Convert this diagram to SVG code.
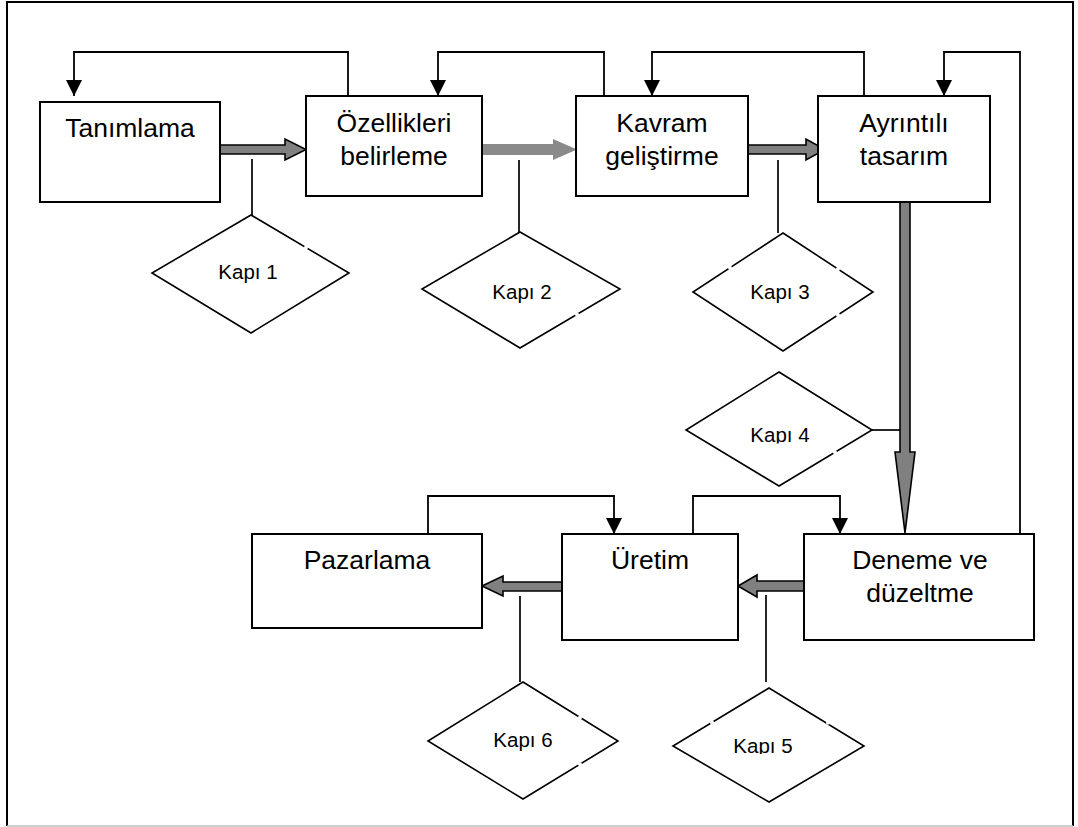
<svg xmlns="http://www.w3.org/2000/svg" width="1078" height="827" viewBox="0 0 1078 827">
  <defs>
    <style>
      .box { fill: #fff; stroke: #000; stroke-width: 2; }
      .gate { fill: #fff; stroke: #000; stroke-width: 1.6; }
      .lbl { font-family: "Liberation Sans", Arial, sans-serif; font-size: 26.5px; fill: #000; text-anchor: middle; }
      .klbl { font-family: "Liberation Sans", Arial, sans-serif; font-size: 20.5px; fill: #000; text-anchor: middle; }
      .loop { fill: none; stroke: #000; stroke-width: 1.8; }
      .tie { fill: none; stroke: #000; stroke-width: 1.7; }
      .flow { fill: #808080; stroke: #000; stroke-width: 1.6; stroke-linejoin: miter; }
      .flow-lite { fill: #8a8a8a; stroke: none; }
      .gap { fill: #fff; stroke: none; }
    </style>
    <marker id="head" markerUnits="userSpaceOnUse" markerWidth="18" markerHeight="17" refX="16" refY="8" orient="auto" viewBox="0 0 18 17">
      <path d="M0,0 L16,8 L0,16 Z" fill="#000"/>
    </marker>
    <clipPath id="clip4"><rect x="700" y="400" width="160" height="43.5"/></clipPath>
    <clipPath id="clip5"><rect x="700" y="720" width="140" height="34"/></clipPath>
  </defs>

  <!-- page frame -->
  <g id="frame">
    <rect x="0" y="0" width="1078" height="827" fill="#fff"/>
    <path d="M7,826 V2 H1073 V826" fill="none" stroke="#000" stroke-width="2"/>
    <line x1="7" y1="826" x2="1073" y2="826" stroke="#bdbdbd" stroke-width="1.5"/>
  </g>

  <!-- connectors -->
  <g id="connectors">
    <!-- feedback loops -->
    <path class="loop" d="M348,96 V52 H74 V96" marker-end="url(#head)"/>
    <path class="loop" d="M604,96 V52 H438 V96" marker-end="url(#head)"/>
    <path class="loop" d="M864,96 V52 H652 V96" marker-end="url(#head)"/>
    <path class="loop" d="M1020,534 V52 H944 V96" marker-end="url(#head)"/>
    <path class="loop" d="M428,534 V496 H614 V534" marker-end="url(#head)"/>
    <path class="loop" d="M693,534 V496 H840 V534" marker-end="url(#head)"/>

    <!-- main flow arrows -->
    <polygon class="flow" points="220,145 285,145 285,139 306,149.5 285,160 285,154 220,154"/>
    <polygon class="flow-lite" points="482,144 553,144 553,139 577,149.5 553,160 553,155 482,155"/>
    <polygon class="flow" points="748,145 806,145 806,139 825,149.5 806,160 806,154 748,154"/>
    <polygon class="flow" points="900,202 910,202 910,452 915,452 905,533 895,452 900,452"/>
    <polygon class="flow" points="804,581 757,581 757,575 738,586 757,597 757,591 804,591"/>
    <polygon class="flow" points="562,582 503,582 503,576 482,586 503,596 503,591 562,591"/>

    <!-- gate ties -->
    <line class="tie" x1="252" y1="159" x2="252" y2="215"/>
    <line class="tie" x1="519" y1="160" x2="519" y2="232"/>
    <line class="tie" x1="778" y1="160" x2="778" y2="233"/>
    <line class="tie" x1="872" y1="430" x2="900" y2="430"/>
    <line class="tie" x1="766" y1="595" x2="766" y2="682"/>
    <line class="tie" x1="520" y1="596" x2="520" y2="682"/>
  </g>

  <!-- stage boxes -->
  <g id="tanimlama">
    <rect class="box" x="40" y="102" width="180" height="100"/>
    <text class="lbl" x="130" y="137">Tanımlama</text>
  </g>
  <g id="ozellikleri">
    <rect class="box" x="306" y="96" width="176" height="100"/>
    <text class="lbl" x="394" y="132">Özellikleri</text>
    <text class="lbl" x="394" y="165">belirleme</text>
  </g>
  <g id="kavram">
    <rect class="box" x="576" y="96" width="172" height="100"/>
    <text class="lbl" x="662" y="132">Kavram</text>
    <text class="lbl" x="662" y="165">geliştirme</text>
  </g>
  <g id="ayrintili">
    <rect class="box" x="818" y="96" width="172" height="106"/>
    <text class="lbl" x="904" y="132">Ayrıntılı</text>
    <text class="lbl" x="904" y="165">tasarım</text>
  </g>
  <g id="deneme">
    <rect class="box" x="804" y="534" width="230" height="106"/>
    <text class="lbl" x="920" y="569">Deneme ve</text>
    <text class="lbl" x="920" y="602">düzeltme</text>
  </g>
  <g id="uretim">
    <rect class="box" x="562" y="534" width="176" height="106"/>
    <text class="lbl" x="650" y="569">Üretim</text>
  </g>
  <g id="pazarlama">
    <rect class="box" x="252" y="534" width="230" height="94"/>
    <text class="lbl" x="367" y="569">Pazarlama</text>
  </g>

  <!-- gates -->
  <g id="kapi1">
    <polygon class="gate" points="251,215 349,273 251,333 152,273"/>
    <circle class="gap" cx="306" cy="247.6" r="2"/>
    <text class="klbl" x="248" y="279">Kapı 1</text>
  </g>
  <g id="kapi2">
    <polygon class="gate" points="520,232 620,289 520,348 422,289"/>
    <circle class="gap" cx="577" cy="314.4" r="2"/>
    <text class="klbl" x="522" y="299">Kapı 2</text>
  </g>
  <g id="kapi3">
    <polygon class="gate" points="783,233 873,292 783,351 693,292"/>
    <circle class="gap" cx="730" cy="267.7" r="2"/>
    <circle class="gap" cx="838" cy="269" r="2"/>
    <circle class="gap" cx="838" cy="315" r="2"/>
    <text class="klbl" x="780" y="299">Kapı 3</text>
  </g>
  <g id="kapi4">
    <polygon class="gate" points="779,372 872,430 779,486 686,430"/>
    <circle class="gap" cx="835" cy="452.3" r="2"/>
    <text class="klbl" x="780" y="442" clip-path="url(#clip4)">Kapı 4</text>
  </g>
  <g id="kapi5">
    <polygon class="gate" points="769,688 864,746 769,802 673,746"/>
    <circle class="gap" cx="712" cy="722.4" r="2"/>
    <circle class="gap" cx="828" cy="722.8" r="2"/>
    <text class="klbl" x="763" y="753" clip-path="url(#clip5)">Kapı 5</text>
  </g>
  <g id="kapi6">
    <polygon class="gate" points="523,682 618,741 523,799 428,741"/>
    <circle class="gap" cx="580" cy="717.4" r="2"/>
    <circle class="gap" cx="580" cy="764.2" r="2"/>
    <text class="klbl" x="523" y="747">Kapı 6</text>
  </g>
</svg>
